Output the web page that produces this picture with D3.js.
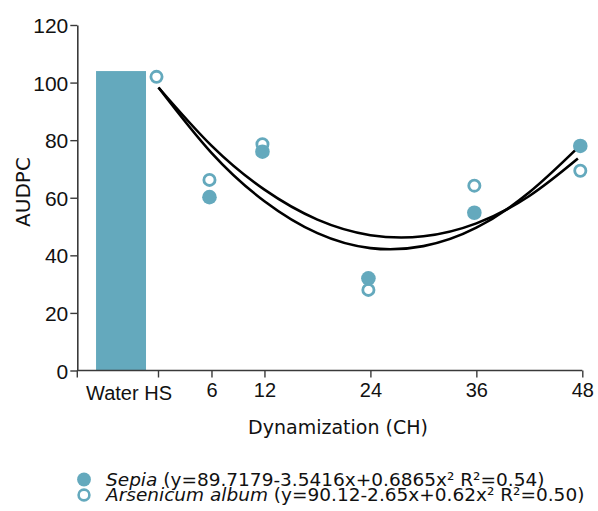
<!DOCTYPE html>
<html>
<head>
<meta charset="utf-8">
<script src="https://cdn.jsdelivr.net/npm/d3@7"></script>
<style>
  body { margin: 0; background: #fff; }
  svg { display: block; font-family: "DejaVu Sans", sans-serif; }
</style>
</head>
<body>
<svg id="chart" width="598" height="511"></svg>
<script>
// data
const controlLabel = "Water HS";
const controlValue = 104;
const dynamizations = [0, 6, 12, 24, 36, 48];
const sepiaValues = [null, 60.2, 76.0, 32.0, 54.8, 78.0];
const arsenicumValues = [102.0, 66.2, 78.6, 28.0, 64.2, 69.4];
// fitted trend lines
const fitDyn = [0, 6, 12, 18, 24, 30, 36, 42, 47.5];
const sepiaFit = [98.3, 75.6, 58.8, 47.7, 42.5, 43.2, 49.6, 61.9, 77.4];
const arsenicumFit = [98.3, 78.1, 62.8, 52.4, 47.0, 46.6, 51.1, 60.6, 73.6];
const yTicks = [0, 20, 40, 60, 80, 100, 120];
const xTicks = [6, 12, 24, 36, 48];

const COLOUR = "#64a9bd";
const AXIS = "#3a3a3a";

//dimensions
const plotLeft = 77.3;
const zeroX = 158.5;
const plotRight = 582.3;
const plotTop = 25;
const plotBottom = 370.5;

const svg = d3.select("#chart");

const x = d3.scaleLinear().domain([0, 48]).range([zeroX, plotRight]);
const y = d3.scaleLinear().domain([0, 120]).range([plotBottom, plotTop]);
const band = d3.scaleBand().domain([controlLabel]).range([plotLeft, zeroX])
    .paddingInner(0.36).paddingOuter(0.2).align(0.6);

//control bar
svg.append("rect")
    .attr("x", band(controlLabel))
    .attr("width", band.bandwidth())
    .attr("y", y(controlValue))
    .attr("height", y(0) - y(controlValue))
    .attr("fill", COLOUR);

//axes
const yAxisG = svg.append("g")
    .attr("transform", "translate(" + plotLeft + ",0)")
    .call(d3.axisLeft(y).tickValues(yTicks).tickSize(7).tickPadding(2).tickSizeOuter(0));
yAxisG.select(".domain").attr("stroke", AXIS).attr("stroke-width", 1.6);
yAxisG.selectAll(".tick line").attr("stroke", AXIS).attr("stroke-width", 1.4);
yAxisG.selectAll(".tick text")
    .attr("fill", "#111")
    .style("font-size", "21px")
    .attr("dy", "0.36em");

const xAxisG = svg.append("g")
    .attr("transform", "translate(0," + plotBottom + ")")
    .call(d3.axisBottom(x).tickValues(xTicks).tickSize(7).tickPadding(5).tickSizeOuter(0));
xAxisG.select(".domain").remove();
xAxisG.selectAll(".tick line").attr("stroke", AXIS).attr("stroke-width", 1.4);
xAxisG.selectAll(".tick text")
    .attr("fill", "#111")
    .style("font-size", "20px");

xAxisG.append("line")
    .attr("x1", plotLeft).attr("x2", plotRight)
    .attr("stroke", AXIS).attr("stroke-width", 1.6);
xAxisG.selectAll("line.extra").data([plotLeft, zeroX])
    .enter().append("line")
    .attr("class", "extra")
    .attr("x1", d => d).attr("x2", d => d)
    .attr("y1", 0).attr("y2", 7)
    .attr("stroke", AXIS).attr("stroke-width", 1.4);
xAxisG.append("text")
    .attr("x", band(controlLabel) + band.bandwidth() / 2 + 8)
    .attr("y", 29)
    .attr("text-anchor", "middle")
    .attr("fill", "#111")
    .style("font-size", "20px")
    .text(controlLabel);

//axis titles
svg.append("text")
    .attr("x", 338)
    .attr("y", 434)
    .attr("text-anchor", "middle")
    .attr("fill", "#111")
    .style("font-size", "19px")
    .text("Dynamization (CH)");
svg.append("text")
    .attr("transform", "translate(30,192) rotate(-90)")
    .attr("text-anchor", "middle")
    .attr("fill", "#111")
    .style("font-size", "20px")
    .text("AUDPC");

//trend lines
const line = d3.line()
    .x(d => x(d[0]))
    .y(d => y(d[1]))
    .curve(d3.curveNatural);
[sepiaFit, arsenicumFit].forEach(vals => {
    svg.append("path")
        .datum(fitDyn.map((d, i) => [d, vals[i]]))
        .attr("d", line)
        .attr("fill", "none")
        .attr("stroke", "#000")
        .attr("stroke-width", 2.6);
});

//points
const sepiaPts = dynamizations.map((d, i) => [d, sepiaValues[i]]).filter(d => d[1] != null);
const arsPts = dynamizations.map((d, i) => [d, arsenicumValues[i]]).filter(d => d[1] != null);

svg.append("g").selectAll("circle").data(sepiaPts)
    .enter().append("circle")
    .attr("cx", d => x(d[0]) - 2)
    .attr("cy", d => y(d[1]))
    .attr("r", 7.3)
    .attr("fill", COLOUR);
svg.append("g").selectAll("circle").data(arsPts)
    .enter().append("circle")
    .attr("cx", d => x(d[0]) - 2)
    .attr("cy", d => y(d[1]))
    .attr("r", 5.6)
    .attr("fill", "none")
    .attr("stroke", COLOUR)
    .attr("stroke-width", 2.8);

//legend
const legend = [
    { name: "Sepia", eq: " (y=89.7179-3.5416x+0.6865x² R²=0.54)", filled: true },
    { name: "Arsenicum album", eq: " (y=90.12-2.65x+0.62x² R²=0.50)", filled: false }
];
const legendG = svg.append("g").attr("transform", "translate(84,479.5)");
const itemG = legendG.selectAll("g.item").data(legend)
    .enter().append("g")
    .attr("class", "item")
    .attr("transform", (d, i) => "translate(0," + (i * 15.5) + ")");
itemG.append("circle")
    .attr("r", d => d.filled ? 6.9 : 5.4)
    .attr("fill", d => d.filled ? COLOUR : "none")
    .attr("stroke", d => d.filled ? "none" : COLOUR)
    .attr("stroke-width", 2.6);
const legText = itemG.append("text")
    .attr("x", 22)
    .attr("y", 6)
    .attr("fill", "#111")
    .style("font-size", "18.5px");
legText.append("tspan").style("font-style", "italic").text(d => d.name);
legText.append("tspan").text(d => d.eq);
</script>
</body>
</html>
